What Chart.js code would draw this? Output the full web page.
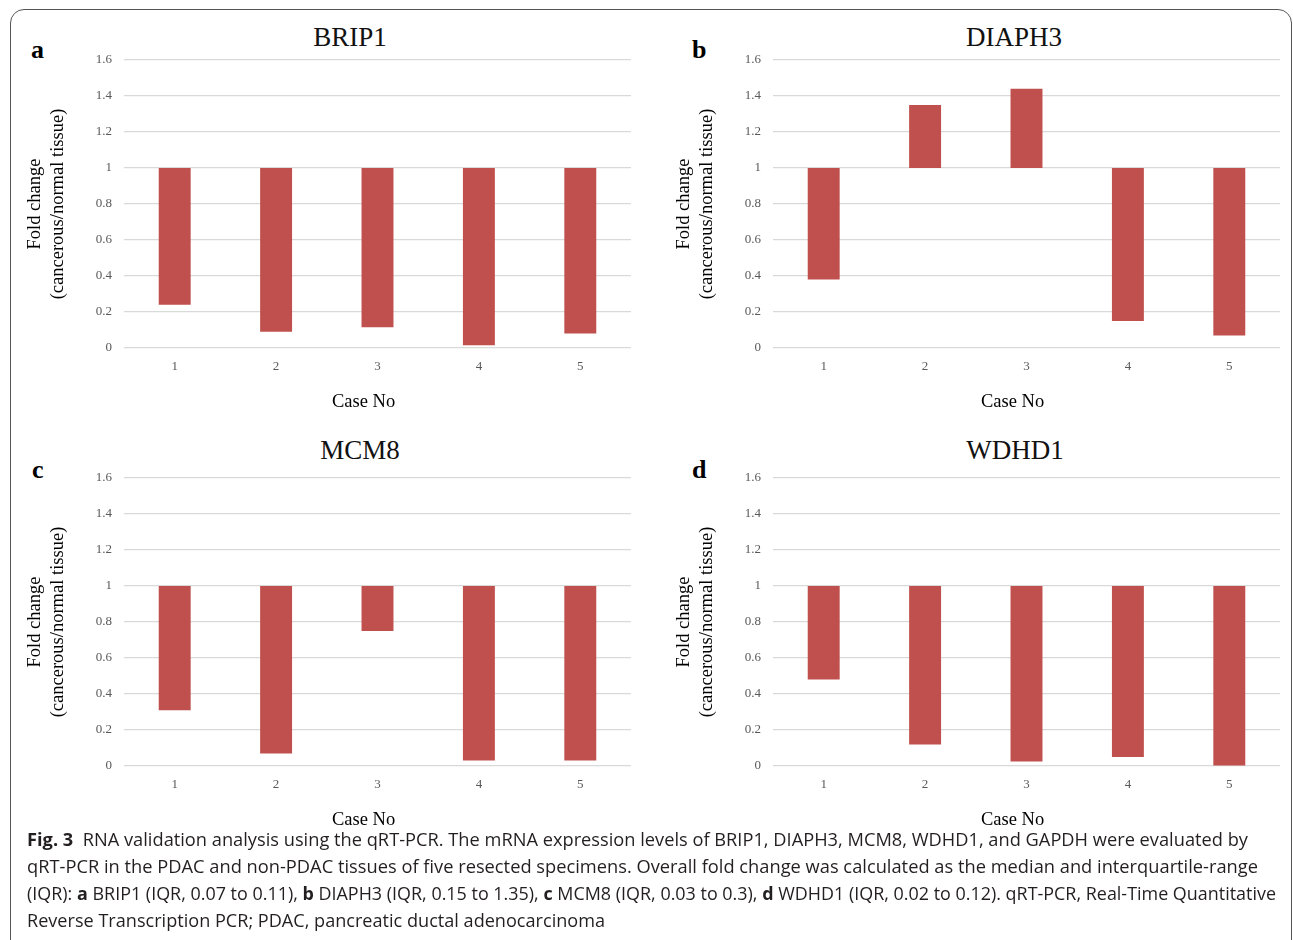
<!DOCTYPE html>
<html>
<head>
<meta charset="utf-8">
<script src="https://cdn.jsdelivr.net/npm/chart.js@4.4.1/dist/chart.umd.min.js"></script>
<style>
  html, body { margin: 0; padding: 0; background: #fff; }
  body { width: 1293px; height: 940px; position: relative; overflow: hidden; }
  .frame { position: absolute; left: 10px; top: 9px; width: 1280px; height: 1000px;
           border: 1.3px solid #555; border-radius: 14px; }
  .panel { position: absolute; width: 630px; height: 400px; }
  .ptitle { position: absolute; font-family: 'Liberation Serif', serif; font-size: 27px;
            line-height: 27px; color: #111; transform: translateX(-50%); white-space: nowrap; }
  .letter { position: absolute; font-family: 'Liberation Serif', serif; font-weight: bold;
            font-size: 26px; line-height: 26px; color: #000; }
  .caption { position: absolute; left: 27px; top: 826px; font-family: 'Open Sans', sans-serif;
             font-size: 17.5px; line-height: 27px; color: #231f20; }
  .caption div { white-space: nowrap; transform-origin: 0 0; width: max-content; }
</style>
</head>
<body>
<div class="frame"></div>

<div class="ptitle" style="left:350px; top:24px;">BRIP1</div>
<div class="ptitle" style="left:1014px; top:24px;">DIAPH3</div>
<div class="ptitle" style="left:360px; top:437px;">MCM8</div>
<div class="ptitle" style="left:1015px; top:437px;">WDHD1</div>

<div class="letter" style="left:31px; top:37px;">a</div>
<div class="letter" style="left:692px; top:37px;">b</div>
<div class="letter" style="left:32px; top:457px;">c</div>
<div class="letter" style="left:692px; top:457px;">d</div>

<div class="panel" style="left:14px; top:14px;"><canvas id="chartA" width="630" height="400"></canvas></div>
<div class="panel" style="left:663px; top:14px;"><canvas id="chartB" width="630" height="400"></canvas></div>
<div class="panel" style="left:14px; top:432px;"><canvas id="chartC" width="630" height="400"></canvas></div>
<div class="panel" style="left:663px; top:432px;"><canvas id="chartD" width="630" height="400"></canvas></div>

<div class="caption">
  <div data-w="1221"><b>Fig. 3</b>&nbsp;&nbsp;RNA validation analysis using the qRT-PCR. The mRNA expression levels of BRIP1, DIAPH3, MCM8, WDHD1, and GAPDH were evaluated by</div>
  <div data-w="1231">qRT-PCR in the PDAC and non-PDAC tissues of five resected specimens. Overall fold change was calculated as the median and interquartile-range</div>
  <div data-w="1249">(IQR): <b>a</b> BRIP1 (IQR, 0.07 to 0.11), <b>b</b> DIAPH3 (IQR, 0.15 to 1.35), <b>c</b> MCM8 (IQR, 0.03 to 0.3), <b>d</b> WDHD1 (IQR, 0.02 to 0.12). qRT-PCR, Real-Time Quantitative</div>
  <div data-w="578">Reverse Transcription PCR; PDAC, pancreatic ductal adenocarcinoma</div>
</div>

<script>
const caseNos = ["1", "2", "3", "4", "5"];
const yTickLabels = ["0", "0.2", "0.4", "0.6", "0.8", "1", "1.2", "1.4", "1.6"];

// fold change per case (cancerous/normal), bars float from 1
const brip1 = [0.24, 0.09, 0.115, 0.015, 0.08];
const diaph3 = [0.38, 1.35, 1.44, 0.15, 0.07];
const mcm8 = [0.31, 0.07, 0.75, 0.03, 0.03];
const wdhd1 = [0.48, 0.12, 0.025, 0.05, 0];

const serif = "'Liberation Serif', 'Times New Roman', serif";

function makeChart(id, values) {
    return new Chart(document.getElementById(id), {
        type: "bar",
        data: {
            labels: caseNos,
            datasets: [{
                data: values.map(v => [Math.min(v, 1), Math.max(v, 1)]),
                backgroundColor: "#c0504d",
                borderWidth: 0,
                barPercentage: 0.315,
                categoryPercentage: 1
            }]
        },
        options: {
            responsive: false,
            animation: false,
            layout: { padding: { left: 0, right: 13, top: 46, bottom: 0 } },
            plugins: { legend: { display: false }, tooltip: { enabled: false } },
            scales: {
                x: {
                    grid: { display: false, drawTicks: false },
                    border: { display: false },
                    ticks: { color: "#595959", padding: 11, font: { family: serif, size: 13 } },
                    title: {
                        // trailing spaces nudge the title left, like the Excel original
                        display: true, text: "Case No      ", color: "#000",
                        font: { family: serif, size: 18.5, lineHeight: 1.28 },
                        padding: { top: 0, bottom: 0 }
                    },
                    afterFit: s => { s.height = 66; }
                },
                y: {
                    min: 0, max: 1.6,
                    grid: { color: "#d9d9d9", lineWidth: 1.2, drawTicks: false },
                    border: { display: false },
                    ticks: {
                        stepSize: 0.2, color: "#595959", padding: 12,
                        font: { family: serif, size: 13 },
                        callback: (v, i) => yTickLabels[i]
                    },
                    title: {
                        display: true, text: ["Fold change", "(cancerous/normal tissue)"], color: "#000",
                        font: { family: serif, size: 18.5, lineHeight: 1.25 },
                        padding: { top: 9.5, bottom: 0 }
                    },
                    afterFit: s => { s.width = 110; }
                }
            }
        }
    });
}

makeChart("chartA", brip1);
makeChart("chartB", diaph3);
makeChart("chartC", mcm8);
makeChart("chartD", wdhd1);

// squeeze caption lines to the condensed width of the original
document.querySelectorAll(".caption div").forEach(el => {
    const w = el.getBoundingClientRect().width;
    el.style.transform = "scaleX(" + (Number(el.dataset.w) / w) + ")";
});
</script>
</body>
</html>
